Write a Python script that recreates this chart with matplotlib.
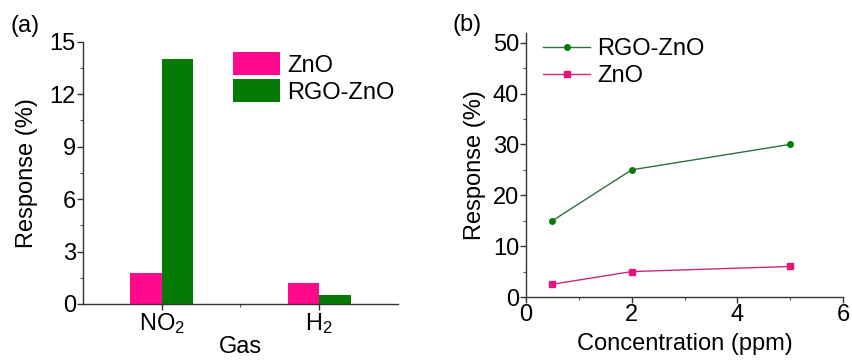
import matplotlib
matplotlib.use("Agg")
import matplotlib.pyplot as plt
from matplotlib.ticker import MultipleLocator

plt.rcParams['font.family'] = ['Liberation Sans', 'DejaVu Sans']
plt.rcParams['font.size'] = 17
plt.rcParams['mathtext.fontset'] = 'custom'
plt.rcParams['mathtext.rm'] = 'Liberation Sans'
plt.rcParams['mathtext.default'] = 'regular'

# panel (a) data
gases = ['NO$_2$', 'H$_2$']
zno_resp = [1.75, 1.22]
rgo_resp = [14.0, 0.53]

# panel (b) data
conc = [0.5, 2, 5]
rgo_line = [15, 25, 30]
zno_line = [2.5, 5, 6]

pink = '#ff0a8c'
green = '#057a05'

fig = plt.figure(figsize=(8.52, 3.6), dpi=100)

# (a) bar chart
ax1 = fig.add_axes([82.7/852, 1-304/360, (398-82.7)/852, (304-41.7)/360])
pos = [1, 2]
w = 0.2
ax1.bar([p - w/2 for p in pos], zno_resp, w, color=pink, label='ZnO')
ax1.bar([p + w/2 for p in pos], rgo_resp, w, color=green, label='RGO-ZnO')
ax1.set_xlim(0.5, 2.5)
ax1.set_ylim(0, 15)
ax1.set_xticks(pos)
ax1.set_xticklabels(gases)
ax1.set_xticks([1.5], minor=True)
ax1.yaxis.set_major_locator(MultipleLocator(3))
ax1.yaxis.set_minor_locator(MultipleLocator(1.5))
ax1.set_xlabel('Gas', labelpad=0)
ax1.set_ylabel('Response (%)', labelpad=8)
ax1.legend(loc='upper left', bbox_to_anchor=(0.447, 0.995), frameon=False,
           handlelength=2.0, handleheight=1.1, handletextpad=0.3, labelspacing=0.1,
           borderaxespad=0)
fig.text(10/852, 1-15/360, '(a)', ha='left', va='top')

# (b) line chart
ax2 = fig.add_axes([526/852, 1-297/360, (843-526)/852, (297-33)/360])
ax2.plot(conc, rgo_line, '-o', color='#2f6e45', mfc=green, mec=green, ms=4, lw=1, label='RGO-ZnO')
ax2.plot(conc, zno_line, '-s', color='#c8287e', mfc='#e8147e', mec='#e8147e', ms=4, lw=1, label='ZnO')
ax2.set_xlim(0, 6)
ax2.set_ylim(0, 51.9)
ax2.xaxis.set_major_locator(MultipleLocator(2))
ax2.xaxis.set_minor_locator(MultipleLocator(1))
ax2.yaxis.set_major_locator(MultipleLocator(10))
ax2.yaxis.set_minor_locator(MultipleLocator(5))
ax2.set_xlabel('Concentration (ppm)', labelpad=5)
ax2.set_ylabel('Response (%)', labelpad=5)
ax2.legend(loc='upper left', bbox_to_anchor=(0.024, 1.015), frameon=False,
           handlelength=2.0, handletextpad=0.3, labelspacing=0.2, borderaxespad=0)
fig.text(452/852, 1-14/360, '(b)', ha='left', va='top')

for ax in (ax1, ax2):
    for s in ('top', 'right'):
        ax.spines[s].set_visible(False)
    for s in ('left', 'bottom'):
        ax.spines[s].set_color('#333333')
        ax.spines[s].set_linewidth(1.0)
    ax.tick_params(which='major', direction='out', length=4, width=1, color='#333333', pad=1)
    ax.tick_params(which='minor', direction='out', length=2, width=0.8, color='#555555')

fig.savefig('out.png', dpi=100)
